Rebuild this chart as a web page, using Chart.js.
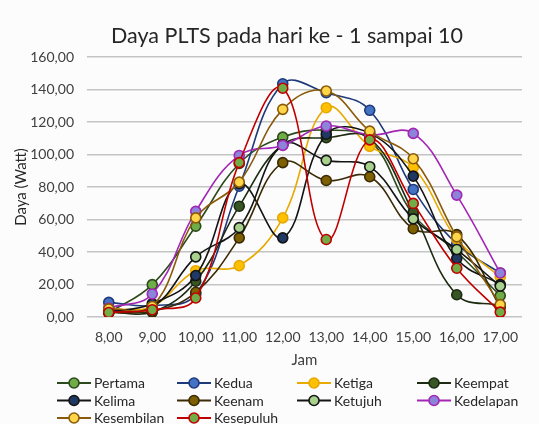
<!DOCTYPE html>
<html>
<head>
<meta charset="utf-8">
<script src="https://cdn.jsdelivr.net/npm/chart.js@4"></script>
<style>
html,body{margin:0;padding:0;background:#fcfcfc;}
#wrap{width:539px;height:424px;position:relative;}
</style>
</head>
<body>
<div id="wrap"><canvas id="c" width="539" height="424"></canvas></div>
<script>
const categories = ['8,00','9,00','10,00','11,00','12,00','13,00','14,00','15,00','16,00','17,00'];
const yTicks = [0,20,40,60,80,100,120,140,160];
const chartTitle = 'Daya PLTS pada hari ke - 1 sampai 10';

const pertama     = [2.5, 19.9, 55.9, 94.5, 110.7, 115.0, 109.0, 63.0, 40.0, 13.1];
const kedua       = [9.0, 7.0, 14.0, 80.5, 143.5, 138.0, 127.2, 78.5, 45.0, 27.0];
const ketiga      = [4.9, 6.5, 28.5, 31.6, 61.0, 128.8, 105.0, 92.0, 48.0, 24.5];
const keempat     = [3.0, 3.0, 22.0, 68.2, 106.0, 110.3, 110.0, 64.5, 13.7, 7.0];
const kelima      = [3.0, 8.2, 25.5, 82.0, 48.7, 112.5, 113.0, 86.7, 36.0, 20.0];
const keenam      = [3.0, 3.5, 15.2, 48.7, 95.0, 84.0, 86.3, 54.3, 50.7, 6.0];
const ketujuh     = [4.0, 6.0, 37.0, 55.0, 106.0, 96.4, 92.5, 60.4, 41.5, 19.0];
const kedelapan   = [5.5, 14.2, 65.0, 99.4, 105.6, 117.5, 112.0, 113.0, 75.0, 27.1];
const kesembilan  = [5.0, 6.5, 61.0, 83.0, 127.8, 139.1, 114.4, 97.4, 49.3, 7.6];
const kesepuluh   = [2.8, 4.5, 11.7, 95.0, 140.8, 47.7, 109.0, 69.9, 30.0, 3.0];

const seriesNames = ['Pertama','Kedua','Ketiga','Keempat','Kelima','Keenam','Ketujuh','Kedelapan','Kesembilan','Kesepuluh'];
const seriesData = [pertama,kedua,ketiga,keempat,kelima,keenam,ketujuh,kedelapan,kesembilan,kesepuluh];
const lineColors = ['#2d4a1c','#1f3a7a','#e8a900','#1c2b12','#141414','#3a2a05','#141414','#a326b5','#8a5a0a','#c00000'];
const fillColors = ['#70ad47','#4472c4','#ffc000','#375623','#1f3864','#7f6000','#a9d18e','#8c84d8','#ffd54a','#70ad47'];

const FONT = 'Lato, "Liberation Sans", sans-serif';

const datasets = seriesData.map((d,i)=>({
  label: seriesNames[i],
  data: d,
  borderColor: lineColors[i],
  backgroundColor: fillColors[i],
  pointBackgroundColor: fillColors[i],
  pointBorderColor: lineColors[i],
  pointBorderWidth: 1.6,
  pointRadius: 5,
  borderWidth: 1.6,
  tension: 0.4,
  fill: false,
  order: 9 - i
}));

const legendPlugin = {
  id: 'customLegend',
  afterDraw(chart){
    const ctx = chart.ctx;
    const base = chart.chartArea.bottom;
    const rowsY = [base + 66, base + 83.5, base + 101];
    chart.data.datasets.forEach((ds,i)=>{
      const col = i % 4, row = Math.floor(i/4);
      const x = 57 + col*120;
      const y = rowsY[row];
      ctx.save();
      ctx.strokeStyle = ds.borderColor;
      ctx.lineWidth = 1.8;
      ctx.beginPath(); ctx.moveTo(x, y); ctx.lineTo(x+34, y); ctx.stroke();
      ctx.beginPath(); ctx.arc(x+17, y, 5, 0, Math.PI*2);
      ctx.fillStyle = ds.pointBackgroundColor; ctx.fill();
      ctx.lineWidth = 1.6; ctx.strokeStyle = ds.pointBorderColor; ctx.stroke();
      ctx.fillStyle = '#262626';
      ctx.font = '14px ' + FONT;
      ctx.textBaseline = 'middle';
      ctx.textAlign = 'left';
      ctx.fillText(ds.label, x+37, y+0.5);
      ctx.restore();
    });
  }
};

const titlePlugin = {
  id: 'customTitle',
  afterDraw(chart){
    const ctx = chart.ctx;
    ctx.save();
    ctx.fillStyle = '#262626';
    ctx.font = '21.5px ' + FONT;
    ctx.textAlign = 'center';
    ctx.textBaseline = 'middle';
    ctx.fillText(chartTitle, 287, 36);
    ctx.restore();
  }
};

const bgPlugin = {
  id: 'bg',
  beforeDraw(chart){
    const ctx = chart.ctx;
    ctx.save(); ctx.fillStyle = '#fcfcfc'; ctx.fillRect(0,0,chart.width,chart.height); ctx.restore();
  }
};

new Chart(document.getElementById('c'), {
  type: 'line',
  data: { labels: categories, datasets },
  options: {
    responsive: false,
    animation: false,
    layout: { padding: { left: 12, right: 17, top: 0, bottom: 55 } },
    plugins: {
      legend: { display: false },
      tooltip: { enabled: false },
      title: {
        display: true,
        text: chartTitle,
        color: 'rgba(0,0,0,0)',
        font: { family: FONT, size: 20, weight: 'normal' },
        padding: { top: 23, bottom: 10 }
      }
    },
    scales: {
      x: {
        offset: true,
        grid: { display: false, drawTicks: false },
        border: { display: false },
        ticks: { color: '#404040', font: { family: FONT, size: 14 }, padding: 12, maxRotation: 0, autoSkip: false },
        title: { display: true, text: 'Jam', color: '#404040', font: { family: FONT, size: 15 }, padding: { top: 4, bottom: 0 } },
        afterFit(s){ s.height = 52; }
      },
      y: {
        min: 0, max: 160,
        afterBuildTicks(s){ s.ticks = yTicks.map(v=>({value:v})); },
        grid: { color: '#c4c4c4', lineWidth: 1.5, drawTicks: false },
        border: { display: false },
        ticks: { color: '#404040', font: { family: FONT, size: 14 }, padding: 13,
                 callback: v => v.toFixed(2).replace('.', ',') },
        title: { display: true, text: 'Daya (Watt)', color: '#262626', font: { family: FONT, size: 15 }, padding: { top: 0, bottom: 0 } },
        afterFit(s){ s.width = 75; }
      }
    }
  },
  plugins: [bgPlugin, legendPlugin, titlePlugin]
});
</script>
</body>
</html>
